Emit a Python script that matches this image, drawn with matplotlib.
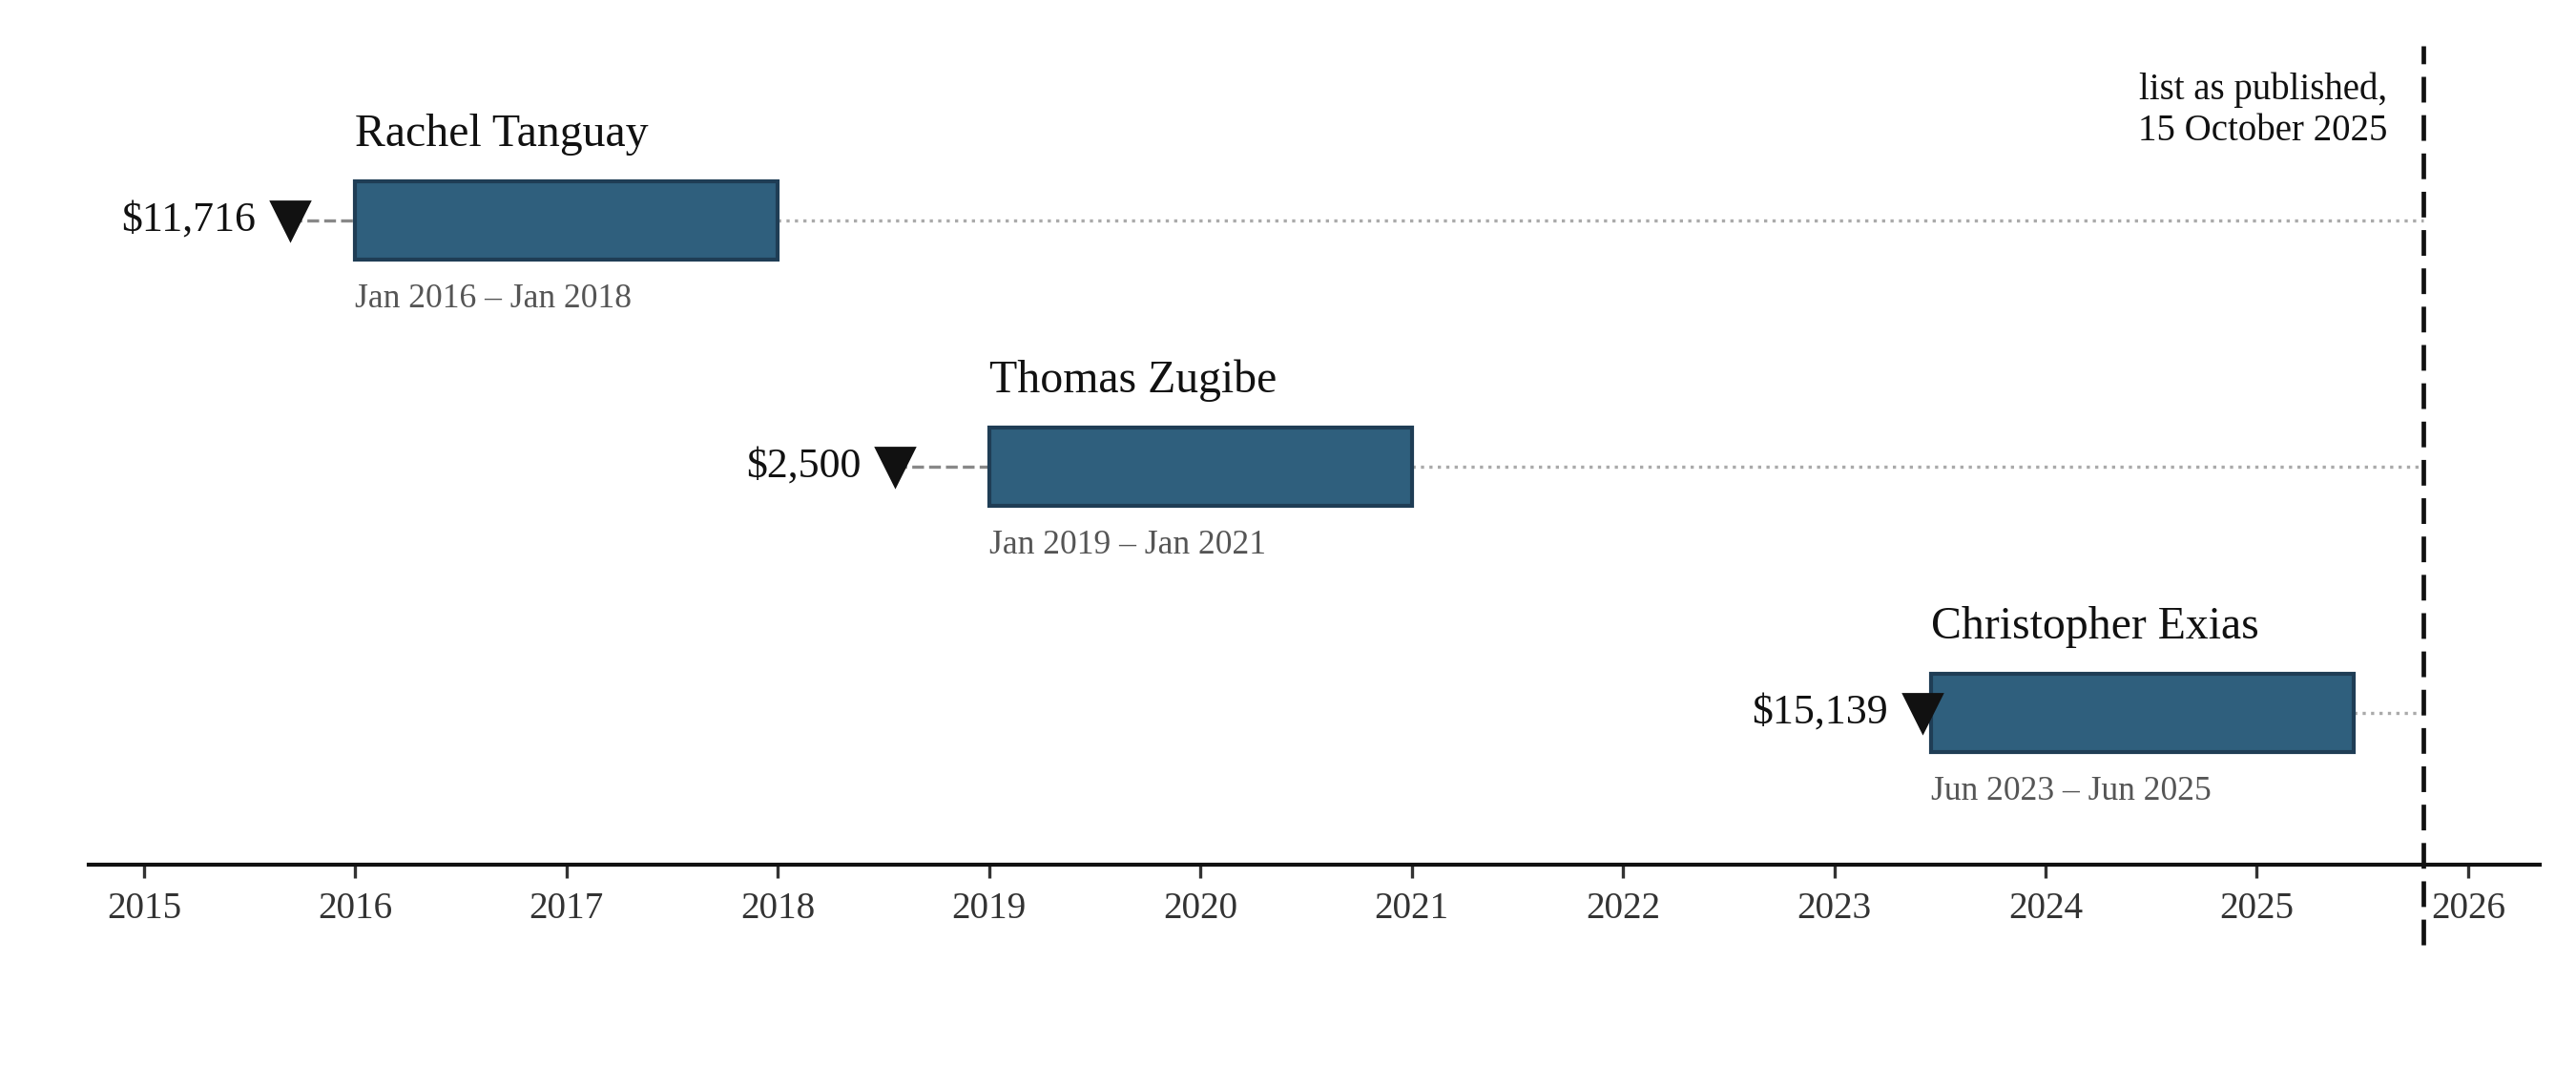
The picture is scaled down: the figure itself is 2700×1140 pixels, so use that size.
import matplotlib
matplotlib.use("Agg")
import matplotlib.pyplot as plt
import matplotlib.transforms as mtransforms
import pandas as pd

# ---- data ----
names = ["Rachel Tanguay", "Thomas Zugibe", "Christopher Exias"]
starts = ["2016-01-01", "2019-01-01", "2023-06-17"]
ends = ["2018-01-01", "2021-01-01", "2025-06-17"]
range_labels = ["Jan 2016 \u2013 Jan 2018", "Jan 2019 \u2013 Jan 2021", "Jun 2023 \u2013 Jun 2025"]
marker_dates = ["2015-09-10", "2018-07-23", "2023-06-02"]
amounts = ["$11,716", "$2,500", "$15,139"]
published = "2025-10-15"
published_label = "list as published,\n15 October 2025"
tick_years = list(range(2015, 2027))


def dec_year(s):
    d = pd.Timestamp(s)
    n = 366 if d.is_leap_year else 365
    return d.year + (d.dayofyear - 1) / n


plt.rcParams['font.family'] = ['Liberation Serif', 'DejaVu Serif']

fig = plt.figure(figsize=(13.5, 5.7), dpi=200)
ax = fig.add_axes([0.0344, 0.2053, 0.9516, 0.7526])

bar_h = 0.318
fill = '#2f5f7d'
edge = '#1f3d55'
pub = dec_year(published)

for i, name in enumerate(names):
    s = dec_year(starts[i])
    e = dec_year(ends[i])
    m = dec_year(marker_dates[i])
    ax.barh(i, e - s, left=s, height=bar_h, color=fill, edgecolor=edge,
            linewidth=1.5, zorder=3)
    # connector from marker to bar start
    ax.plot([m, s], [i, i], linestyle='--', color='#888888', linewidth=1.2, zorder=1)
    # dotted line from bar end to publication date
    ax.plot([e, pub], [i, i], linestyle=':', color='#aaaaaa', linewidth=1.2, zorder=1)
    ax.plot([m], [i], marker='v', markersize=14.4, color='#111111',
            linestyle='none', zorder=4)
    ax.annotate(amounts[i], xy=(m, i), xytext=(-13, 0), textcoords='offset points',
                ha='right', va='center', fontsize=15.8, color='#111111')
    ax.text(s, i - 0.302, name, ha='left', va='baseline', fontsize=17.2, color='#111111')
    ax.text(s, i + 0.353, range_labels[i], ha='left', va='baseline', fontsize=12.8,
            color='#555555')

# publication line
trans = mtransforms.blended_transform_factory(ax.transData, ax.transAxes)
ax.plot([pub, pub], [-0.098, 1.0], transform=trans, color='#111111', linewidth=1.7,
        dashes=(5.7, 2.8), clip_on=False, zorder=5)
ax.annotate(published_label, xy=(pub, 1.0), xycoords=trans, xytext=(-13.5, -10),
            textcoords='offset points', ha='right', va='top', fontsize=14,
            color='#111111', linespacing=1.22)

ax.set_xlim(2014.738, 2026.34)
ax.set_ylim(2.616, -0.709)
ax.set_xticks(tick_years)
ax.set_xticklabels([str(y) for y in tick_years])
ax.set_yticks([])
for sp in ['top', 'left', 'right']:
    ax.spines[sp].set_visible(False)
ax.spines['bottom'].set_linewidth(1.5)
ax.spines['bottom'].set_color('#111111')
ax.tick_params(axis='x', length=5, width=1.2, color='#333333', labelcolor='#333333',
               labelsize=14.1, pad=5)

fig.savefig('out.png', dpi=200, facecolor='white')
